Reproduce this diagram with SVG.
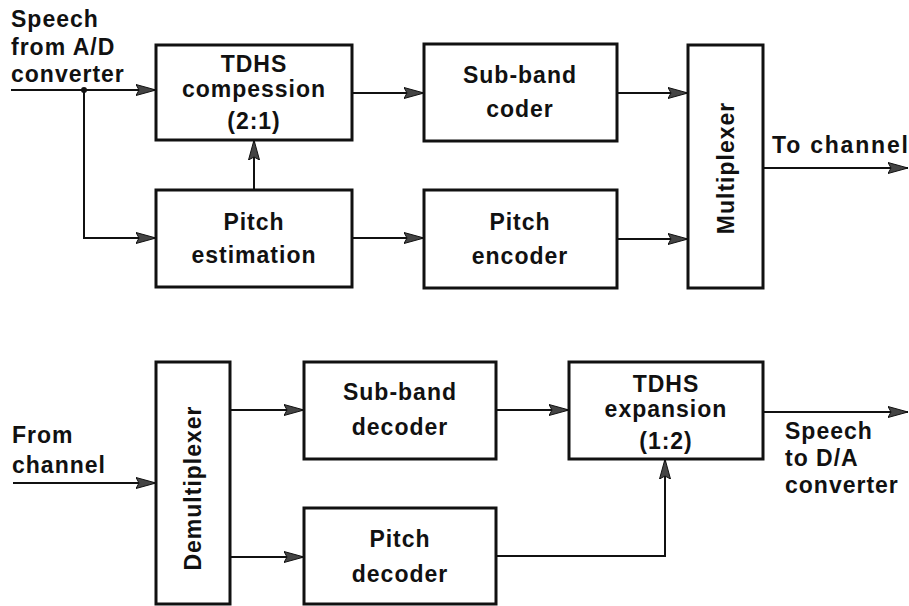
<svg xmlns="http://www.w3.org/2000/svg" width="909" height="606" viewBox="0 0 909 606">
<style>
.box{fill:#fff;stroke:#111;stroke-width:3}
.ln{fill:none;stroke:#111;stroke-width:2;marker-end:url(#ah)}
text{font-family:"Liberation Sans",Arial,sans-serif;font-weight:bold;font-size:23px;fill:#111;letter-spacing:1px}
.c{text-anchor:middle}
.w{letter-spacing:1.8px}
</style>
<defs>
<marker id="ah" markerUnits="userSpaceOnUse" markerWidth="22" markerHeight="14" refX="20" refY="7" orient="auto">
<path d="M0,1.5 L20,7 L0,12.5 L3,7 z" fill="#444" stroke="#111" stroke-width="1"/>
</marker>
</defs>
<rect width="909" height="606" fill="#fff"/>
<g id="connectors">
<path class="ln" d="M11,90 H156"/>
<path class="ln" d="M84,90 V238 H156"/>
<path class="ln" d="M254,190 V140"/>
<path class="ln" d="M352,93 H424"/>
<path class="ln" d="M352,238 H424"/>
<path class="ln" d="M617,93 H688"/>
<path class="ln" d="M617,239 H688"/>
<path class="ln" d="M763,168 H908"/>
<path class="ln" d="M13,483 H156"/>
<path class="ln" d="M230,410 H304"/>
<path class="ln" d="M230,557 H304"/>
<path class="ln" d="M496,410 H569"/>
<path class="ln" d="M496,556 H665 V459"/>
<path class="ln" d="M763,412 H908"/>
<circle cx="84" cy="90" r="3" fill="#111"/>
</g>
<g id="label-in">
<text x="11" y="27">Speech</text>
<text x="11" y="55">from A/D</text>
<text x="11" y="82">converter</text>
</g>
<g id="tdhs-comp">
<rect class="box" x="156" y="45" width="196" height="95"/>
<text class="c" x="254" y="72">TDHS</text>
<text class="c" x="254" y="97">compession</text>
<text class="c" x="254" y="129">(2:1)</text>
</g>
<g id="pitch-est">
<rect class="box" x="156" y="190" width="196" height="97"/>
<text class="c" x="254" y="230">Pitch</text>
<text class="c" x="254" y="263">estimation</text>
</g>
<g id="subband-coder">
<rect class="box" x="424" y="44" width="193" height="97"/>
<text class="c" x="520" y="83">Sub-band</text>
<text class="c" x="520" y="117">coder</text>
</g>
<g id="pitch-enc">
<rect class="box" x="424" y="190" width="193" height="98"/>
<text class="c" x="520" y="230">Pitch</text>
<text class="c" x="520" y="264">encoder</text>
</g>
<g id="mux">
<rect class="box" x="688" y="45" width="75" height="243"/>
<text class="c" transform="translate(734,168) rotate(-90)">Multiplexer</text>
</g>
<g id="label-out">
<text class="w" x="772" y="153">To channel</text>
</g>
<g id="label-from">
<text x="12" y="443">From</text>
<text x="12" y="473">channel</text>
</g>
<g id="demux">
<rect class="box" x="156" y="362" width="74" height="242"/>
<text class="c" transform="translate(201,488) rotate(-90)">Demultiplexer</text>
</g>
<g id="subband-dec">
<rect class="box" x="304" y="362" width="192" height="97"/>
<text class="c" x="400" y="400">Sub-band</text>
<text class="c" x="400" y="435">decoder</text>
</g>
<g id="pitch-dec">
<rect class="box" x="304" y="508" width="192" height="96"/>
<text class="c" x="400" y="547">Pitch</text>
<text class="c" x="400" y="582">decoder</text>
</g>
<g id="tdhs-exp">
<rect class="box" x="569" y="362" width="194" height="97"/>
<text class="c" x="666" y="392">TDHS</text>
<text class="c" x="666" y="417">expansion</text>
<text class="c" x="666" y="449">(1:2)</text>
</g>
<g id="label-speech-out">
<text x="785" y="439">Speech</text>
<text x="785" y="466">to D/A</text>
<text x="785" y="493">converter</text>
</g>
</svg>
